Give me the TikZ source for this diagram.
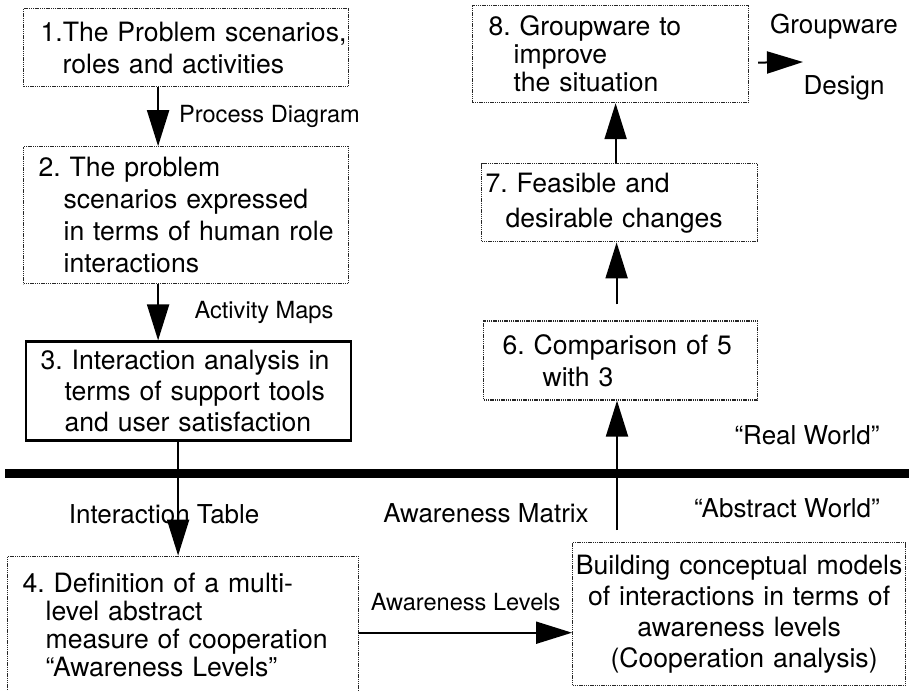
\documentclass[tikz,border=0pt]{standalone}
\usepackage{fontspec}
\setmainfont{TeX Gyre Heros}
\usetikzlibrary{arrows.meta,positioning}
\frenchspacing

\begin{document}
\begin{tikzpicture}[x=0.5pt, y=-0.5pt,
		>={Triangle[length=18pt,width=11pt]},
		stage/.style={draw=black!85, line width=0.6pt, dash pattern=on 0.7pt off 0.4pt, inner xsep=0pt, inner ysep=0pt, align=left, font=\fontsize{13.3}{16}\selectfont},
		flow/.style={->, line width=1pt},
		smalllbl/.style={inner sep=0pt, font=\fontsize{11.8}{14}\selectfont},
		biglbl/.style={inner sep=0pt, font=\fontsize{13}{15}\selectfont}]
			\useasboundingbox (0,0) rectangle (909,690);
			% real world
			\node (b1) [stage, anchor=north west, text width=162.5pt, minimum height=39pt] at (23,8) {\hspace*{8.5pt}1.The Problem scenarios,\\\hspace*{19.5pt}roles and activities};
			\node (b2) [stage, below=29.5pt of b1, text width=162.5pt, minimum height=68.5pt] {\hspace*{7.5pt}2. The problem\\\hspace*{20pt}scenarios expressed\\\hspace*{20pt}in terms of human role\\\hspace*{20pt}interactions};
			\node (b3) [stage, solid, draw=black, line width=1.1pt, below=28pt of b2, xshift=1pt, text width=162.5pt, minimum height=49.5pt, font=\fontsize{13.3}{15.5}\selectfont] {\hspace*{7.5pt}3. Interaction analysis in\\\hspace*{19.5pt}terms of support tools\\\hspace*{19.5pt}and user satisfaction};
			\node (b8) [stage, anchor=north west, text width=138pt, minimum height=48.5pt, font=\fontsize{13.3}{14}\selectfont] at (472,5) {\hspace*{8pt}8. Groupware to\\\hspace*{20.5pt}improve\\\hspace*{20.5pt}the situation};
			\node (b7) [stage, below=30pt of b8, xshift=4.5pt, text width=138pt, minimum height=39pt, font=\fontsize{13.3}{17.5}\selectfont] {\hspace*{2pt}7. Feasible and\\\hspace*{12pt}desirable changes};
			\node (b6) [stage, below=39pt of b7, xshift=0.5pt, text width=137pt, minimum height=39.5pt] {\hspace*{9.5pt}6. Comparison of 5\\\hspace*{29.5pt}with 3};
			% abstract world
			\node (b4) [stage, below=57pt of b3, xshift=-2.5pt, text width=175.5pt, minimum height=69pt, font=\fontsize{13.3}{14}\selectfont] {\hspace*{7.5pt}4. Definition of a multi-\\\hspace*{19pt}level abstract\\\hspace*{19pt}measure of cooperation\\\hspace*{19pt}“Awareness Levels”};
			\node (b5) [stage, anchor=north west, align=center, text width=166.5pt, minimum height=71.5pt, font=\fontsize{13.3}{15.5}\selectfont] at (572,542) {Building conceptual models\\of interactions in terms of\\awareness levels\\\hspace*{5pt}(Cooperation analysis)};
			
			\draw [line width=4.5pt] (5,473) -- (909,473);
			
			\draw [flow] ([xshift=-14pt]b1.south) -- ([xshift=-14pt]b2.north) node (lpd) [smalllbl, midway, anchor=west, xshift=10pt] {Process Diagram};
			\draw [flow] ([xshift=-14pt]b2.south) -- ([xshift=-14pt]b2.south |- b3.north) node (lam) [smalllbl, midway, anchor=west, xshift=17.75pt] {Activity Maps};
			\draw [flow] ([xshift=-5pt]b3.south) -- ([xshift=-5pt]b3.south |- b4.north) node (lit) [biglbl, pos=0.64, xshift=-7pt] {Interaction Table};
			\draw [flow] ([yshift=-3.75pt]b4.east) -- ([yshift=-3.75pt]b4.east -| b5.west) node (lal) [smalllbl, midway, yshift=15.5pt] {Awareness Levels};
			\coordinate (m5) at (617,530);
			\draw [flow] (m5) -- (m5 |- b6.south);
			\draw [flow] ([xshift=-2pt,yshift=8pt]b6.north) -- ([xshift=-2pt]b6.north |- b7.south);
			\draw [flow] ([xshift=-2pt]b7.north) -- ([xshift=-2pt]b7.north |- b8.south);
			\coordinate (gw) at (803,62);
			\draw [flow] ([xshift=4.5pt,yshift=-4.25pt]b8.east) -- (gw);
			
			\node (lgw) [biglbl] at (834,27) {Groupware};
			\node (lds) [biglbl] at (844,88) {Design};
			\node (lmx) [biglbl] at (486,513) {Awareness Matrix};
			\node (lrw) [biglbl] at (807,435) {“Real World”};
			\node (law) [biglbl] at (787,508) {“Abstract World”};
		\end{tikzpicture}
\end{document}
